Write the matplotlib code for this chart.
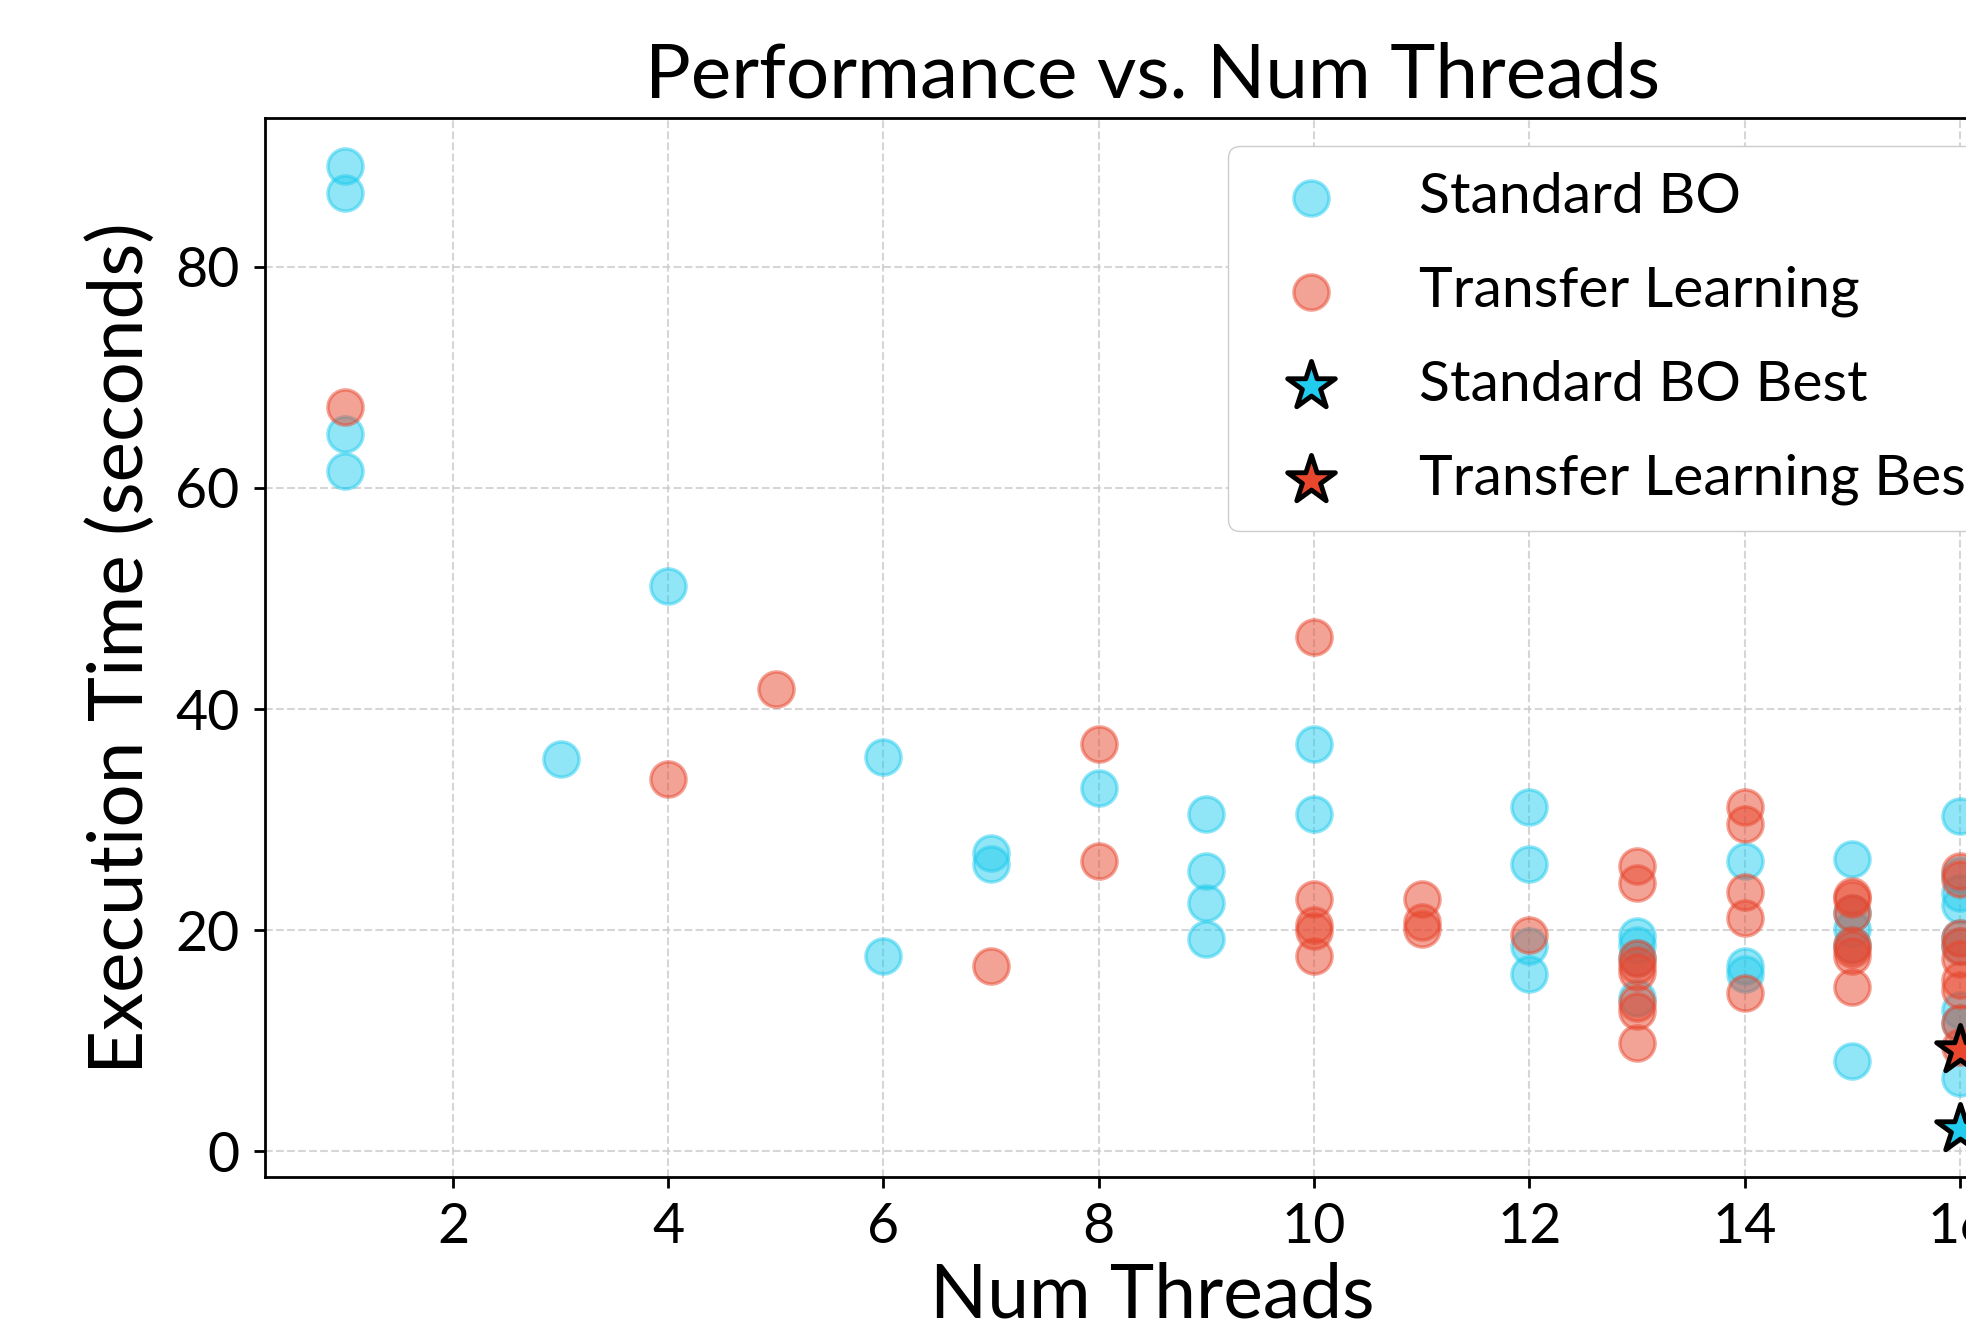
import numpy as np
import matplotlib.pyplot as plt

plt.rcParams['font.family'] = ['Lato', 'DejaVu Sans']

# Standard BO samples (threads, seconds)
bo_threads = [1, 1, 1, 1, 3, 4, 6, 6, 7, 7, 8, 9, 9, 9, 9, 10, 10,
              12, 12, 12, 12, 13, 13, 13, 13, 14, 14, 14,
              15, 15, 15, 15, 15, 16, 16, 16, 16, 16, 16, 16, 16, 16]
bo_times = [89.1, 86.7, 64.9, 61.5, 35.5, 51.1, 35.7, 17.7, 27.0, 26.0, 32.9,
            30.5, 25.4, 22.5, 19.2, 36.8, 30.5,
            31.1, 26.0, 18.6, 16.0, 19.5, 18.7, 17.5, 13.9, 26.3, 16.8, 16.0,
            26.4, 21.6, 20.1, 18.7, 8.2, 30.3, 25.0, 23.4, 22.3, 19.3, 18.6, 12.8, 11.6, 6.6]

# Transfer learning samples
tl_threads = [1, 4, 5, 7, 8, 8, 10, 10, 10, 10, 10, 11, 11, 11, 12,
              13, 13, 13, 13, 13, 13, 13, 13, 14, 14, 14, 14, 14,
              15, 15, 15, 15, 15, 15, 15, 16, 16, 16, 16, 16, 16, 16, 16, 16]
tl_times = [67.3, 33.7, 41.8, 16.8, 36.8, 26.3, 46.5, 22.8, 20.5, 19.9, 17.7,
            22.8, 20.7, 20.1, 19.6,
            25.8, 24.3, 17.5, 16.9, 16.2, 13.4, 12.7, 9.8, 31.1, 29.6, 23.5, 21.1, 14.3,
            23.1, 22.8, 21.6, 18.7, 18.3, 17.7, 14.9,
            25.4, 24.6, 19.3, 18.6, 17.4, 15.5, 14.6, 11.6, 9.4]

bo_best = (16, 2.0)
tl_best = (16, 9.2)

blue = '#22CCEE'
red = '#E8472E'

fig = plt.figure(figsize=(19.66, 13.35), dpi=100)
ax = fig.add_axes([0.1346, 0.118, 0.9033, 0.7937])

ax.scatter(bo_threads, bo_times, s=640, color=blue, alpha=0.5, linewidths=2.5,
           edgecolors=blue, label='Standard BO', zorder=2)
ax.scatter(tl_threads, tl_times, s=640, color=red, alpha=0.5, linewidths=2.5,
           edgecolors=red, label='Transfer Learning', zorder=2)
ax.scatter([bo_best[0]], [bo_best[1]], s=1300, marker='*', color=blue,
           edgecolors='black', linewidths=3.5, label='Standard BO Best', zorder=3)
ax.scatter([tl_best[0]], [tl_best[1]], s=1300, marker='*', color=red,
           edgecolors='black', linewidths=3.5, label='Transfer Learning Best', zorder=3)

ax.set_title('Performance vs. Num Threads', fontsize=55, pad=15)
ax.set_xlabel('Num Threads', fontsize=54, labelpad=6)
ax.set_ylabel('Execution Time (seconds)', fontsize=55, labelpad=14)
ax.tick_params(labelsize=40, width=2, length=8)
ax.tick_params(axis='x', pad=10)
ax.tick_params(axis='y', pad=10)
ax.set_xticks([2, 4, 6, 8, 10, 12, 14, 16])
ax.set_yticks([0, 20, 40, 60, 80])
ax.grid(True, linestyle='--', color='#cccccc', linewidth=1.5, alpha=0.8)
ax.set_axisbelow(True)
for sp in ax.spines.values():
    sp.set_linewidth(2)

ax.legend(loc='upper right', fontsize=41, labelspacing=0.75, borderpad=0.45,
          handletextpad=0.9, framealpha=1, edgecolor='#cccccc', fancybox=True)

fig.savefig('out.png', dpi=100)
